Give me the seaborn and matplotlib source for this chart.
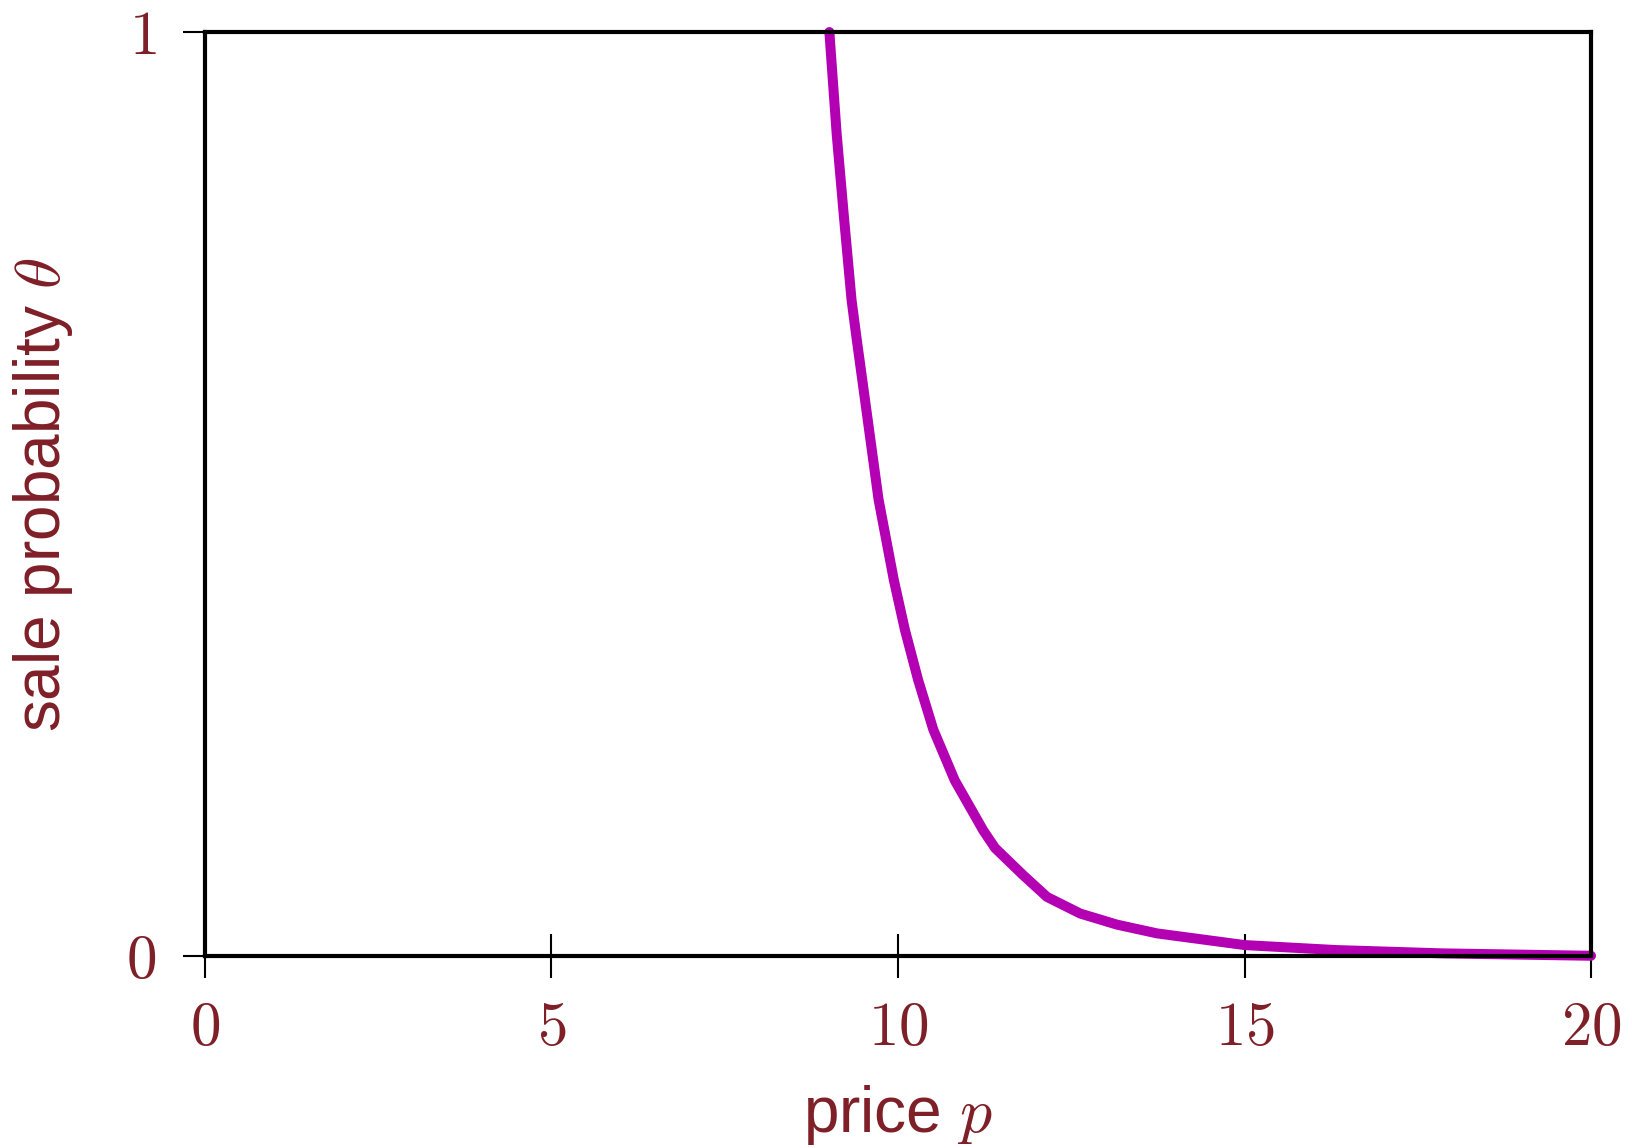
import matplotlib
matplotlib.use("Agg")
import matplotlib.pyplot as plt
import seaborn as sns
import pandas as pd

price = [9.01, 9.115, 9.22, 9.33, 9.40, 9.524, 9.72, 9.94, 10.10, 10.29, 10.51,
         10.82, 11.23, 11.40, 11.80, 12.15, 12.63, 13.16, 13.74, 15.0, 16.32,
         17.86, 20.0]
prob = [1.0, 0.890, 0.800, 0.710, 0.670, 0.602, 0.494, 0.407, 0.353, 0.299, 0.245,
        0.190, 0.136, 0.117, 0.088, 0.064, 0.046, 0.034, 0.0245, 0.0119, 0.0065,
        0.0029, 0.0003]
xticks = [0, 5, 10, 15, 20]
yticks = [0, 1]

sns.set_style("white")
plt.rcParams['font.family'] = ['Liberation Sans', 'DejaVu Sans']
plt.rcParams['mathtext.fontset'] = 'cm'

label_color = '#7f1f27'
curve_color = '#b300b3'

df = pd.DataFrame({'price': price, 'prob': prob})
fig = plt.figure(figsize=(16.33, 11.48), dpi=100)
ax = fig.add_axes([0.1255, 0.1672, 0.8488, 0.8049])
sns.lineplot(data=df, x='price', y='prob', ax=ax, color=curve_color, linewidth=7.2,
             sort=False, estimator=None, clip_on=False, zorder=3)
ax.lines[0].set_solid_joinstyle('round')
ax.set_xlim(0, 20)
ax.set_ylim(0, 1)
for s in ax.spines.values():
    s.set_linewidth(3.0)
    s.set_color('black')
    s.set_zorder(4)
ax.set_xticks(xticks)
ax.set_xticklabels([f'${t}$' for t in xticks])
ax.set_yticks(yticks)
ax.set_yticklabels([f'${t}$' for t in yticks])
ax.tick_params(axis='x', bottom=True, direction='inout', length=31, width=1.5, pad=17,
               labelsize=44, labelcolor=label_color, color='black')
ax.tick_params(axis='y', left=True, direction='out', length=16, width=1.5, pad=19,
               labelsize=44, labelcolor=label_color, color='black')
ax.set_xlabel(r'price $p$', fontsize=46, color=label_color)
ax.set_ylabel(r'sale probability $\theta$', fontsize=46, color=label_color)
ax.xaxis.set_label_coords(0.5, -0.137)
ax.yaxis.set_label_coords(-0.094, 0.5)
ax.grid(False)
fig.savefig('out.png', dpi=100)
